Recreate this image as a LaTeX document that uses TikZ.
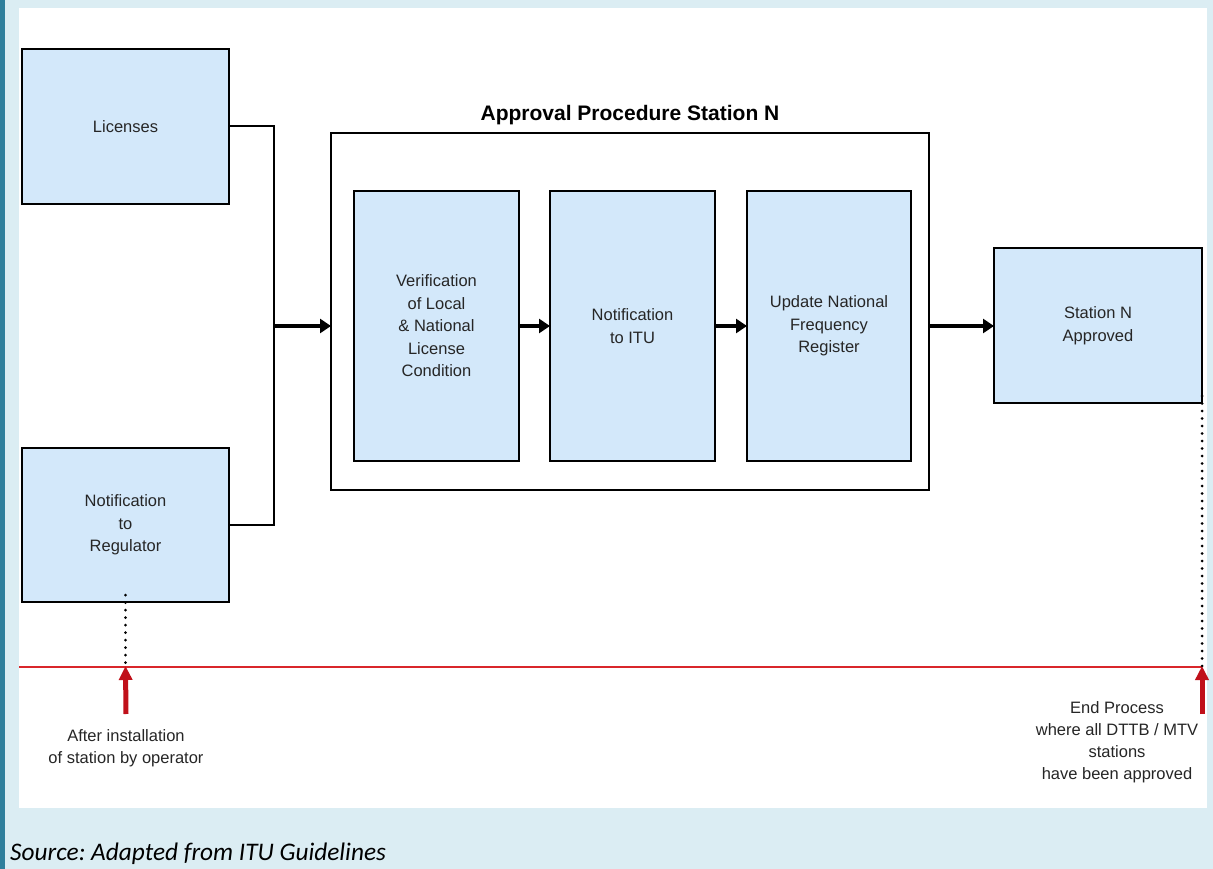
\documentclass[tikz,border=0pt]{standalone}
\usepackage{fontspec}
\setmainfont{Liberation Sans}
\newfontfamily\captionfont{Carlito}
\usetikzlibrary{arrows.meta}
\definecolor{pagebg}{HTML}{DBEDF3}
\definecolor{sidebar}{HTML}{2F7F9C}
\definecolor{boxfill}{HTML}{D3E8FA}
\definecolor{timeline}{HTML}{D9262B}
\definecolor{marker}{HTML}{C0101A}
\frenchspacing
\begin{document}
\begin{tikzpicture}[x=1pt,y=-1pt,
  stepbox/.style={draw=black, line width=2.4pt, fill=boxfill, inner sep=0pt, outer sep=0pt,
    align=center, font=\fontsize{16.5}{22.5}\selectfont, text=black!85},
  framebox/.style={draw=black, line width=2pt, inner sep=0pt, outer sep=0pt},
  link/.style={draw=black, line width=2pt},
  flow/.style={draw=black, line width=4.5pt, -{Triangle[length=11pt,width=14pt]}},
  dots/.style={draw=black, line width=3pt, line cap=round, dash pattern=on 0pt off 7.5pt},
  upmark/.style={draw=marker, line width=5pt, -{Triangle[length=14pt,width=13pt]}},
  note/.style={align=center, font=\fontsize{16.5}{22}\selectfont, text=black!85}]
  % page background and panel
  \fill[pagebg] (0,0) rectangle (1213,869);
  \fill[sidebar] (0,0) rectangle (5,869);
  \fill[white] (19,8) rectangle (1207,808);
  \useasboundingbox (0,0) rectangle (1213,869);

  % inputs
  \node[stepbox, minimum width=207pt, minimum height=155pt] (lic) at (125.5,126.5) {Licenses};
  \node[stepbox, minimum width=207pt, minimum height=154pt] (reg) at (125.5,525) {Notification\\to\\Regulator};

  % approval procedure frame
  \node[framebox, minimum width=598pt, minimum height=357pt] (frame) at (630,311.5) {};
  \node[font=\fontsize{21}{24}\selectfont\bfseries, anchor=base] (title) at (630,121) {Approval Procedure Station N};
  \node[stepbox, minimum width=165pt, minimum height=270pt] (verif) at (436.5,326) {Verification\\of Local\\\& National\\License\\Condition};
  \node[stepbox, minimum width=165pt, minimum height=270pt] (itu) at (632.5,326) {Notification\\to ITU};
  \node[stepbox, minimum width=164pt, minimum height=270pt] (upd) at (829,326) {Update National\\Frequency\\Register};

  % result
  \node[stepbox, minimum width=208pt, minimum height=155pt] (done) at (1098,325.5) {Station N\\Approved};

  % connectors
  \coordinate (join) at (274,326);
  \draw[link] (lic.east) -| (join) |- (reg.east);
  \draw[flow] (join) -- (frame.west |- join);
  \draw[flow] (verif.east |- join) -- (itu.west |- join);
  \draw[flow] (itu.east |- join) -- (upd.west |- join);
  \draw[flow] (frame.east |- join) -- (done.west |- join);

  % timeline
  \coordinate (tl) at (19,667);
  \coordinate (tr) at (1202,667);
  \draw[timeline, line width=1.6pt] (tl) -- (tr);
  \coordinate (startpt) at (reg.south |- tl);
  \coordinate (endpt) at (done.south east |- tl);
  \draw[dots] ([yshift=7pt]reg.south) -- ([yshift=-4pt]startpt);
  \draw[dots] ([yshift=7pt]done.south east) -- ([yshift=-4pt]endpt);
  \coordinate (startfoot) at (126,714);
  \coordinate (endfoot) at (1202,714);
  \draw[upmark] (startfoot) -- ([yshift=1pt]startpt);
  \draw[upmark] (endfoot) -- ([yshift=1pt]endpt);

  \node[note, anchor=north] (startnote) at (126,726) {After installation\\of station by operator};
  \node[note, anchor=north] (endnote) at (1117,698) {End Process\\where all DTTB / MTV\\stations\\have been approved};

  % source line
  \node[anchor=base west, inner sep=0pt, font=\captionfont\itshape\fontsize{25.3}{28}\selectfont] (src) at (10,860) {Source: Adapted from ITU Guidelines};
\end{tikzpicture}
\end{document}
